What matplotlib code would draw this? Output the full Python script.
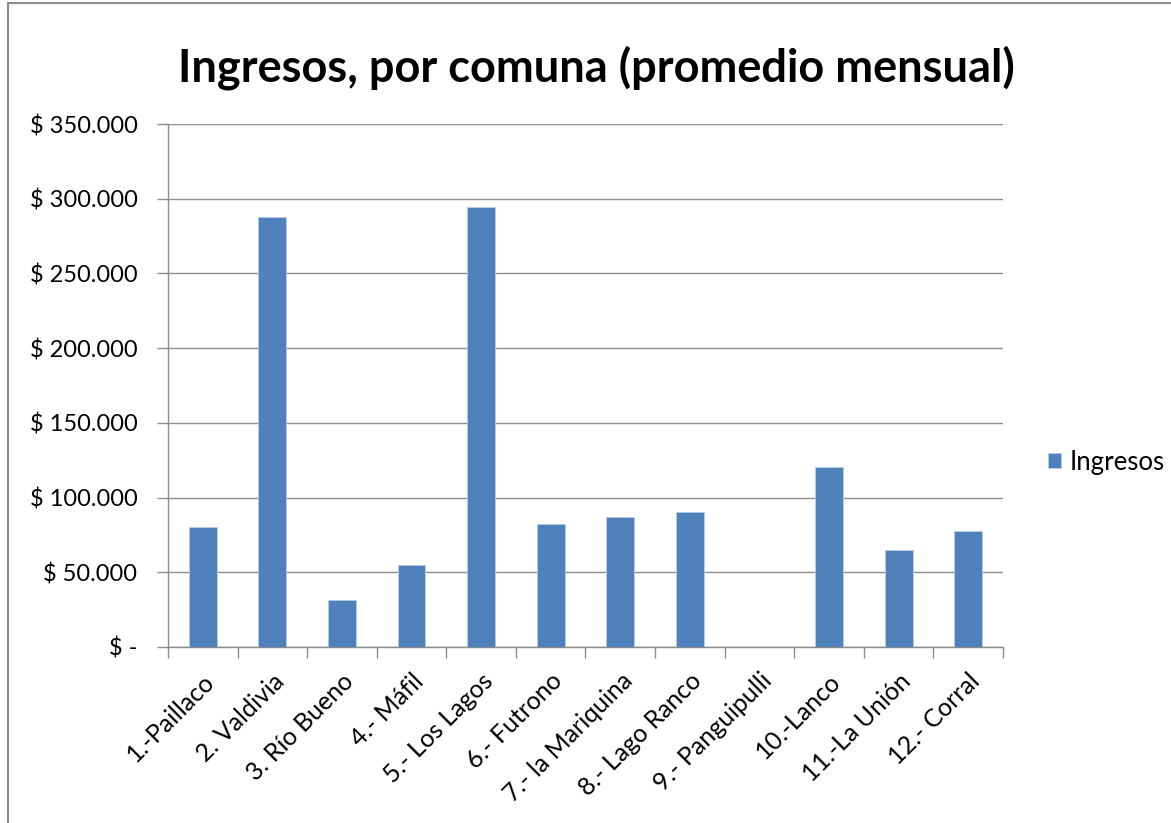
"""Bar chart: average monthly income per commune (Excel-style look)."""

import matplotlib

matplotlib.use("Agg")

import matplotlib.pyplot as plt  # noqa: E402
from matplotlib.patches import Rectangle  # noqa: E402
from matplotlib.ticker import FuncFormatter, MultipleLocator  # noqa: E402

comunas = [
    "1.-Paillaco", "2. Valdivia", "3. Río Bueno", "4.- Máfil", "5.- Los Lagos",
    "6.- Futrono", "7.- la Mariquina", "8.- Lago Ranco", "9.- Panguipulli",
    "10.-Lanco", "11.-La Unión", "12.- Corral",
]
ingresos = [80300, 287800, 31500, 54900, 294400, 82300, 87000, 90300, 0, 120400, 64900, 77600]

BLUE = "#4f81bd"
GRID = "#8c8c8c"
plt.rcParams["font.family"] = ["Lato", "DejaVu Sans"]


def peso(v, _pos):
    if v == 0:
        return "$ -"
    return "$ " + f"{int(v):,}".replace(",", ".")


fig = plt.figure(figsize=(11.71, 8.23), dpi=100)
fig.patches.append(Rectangle((8 / 1171, -0.01), 1.1, 1 - 3 / 823 + 0.01, transform=fig.transFigure,
                             fill=False, edgecolor="#8c8c8c", linewidth=1.5))
ax = fig.add_axes([0.1435, 0.2139, 0.713, 0.6354])

x = range(len(comunas))
ax.bar(x, ingresos, width=0.4, color=BLUE, edgecolor="#b9cde5", linewidth=0.6, label="Ingresos", zorder=3)

ax.set_xlim(-0.5, len(comunas) - 0.5)
ax.set_ylim(0, 350000)
ax.yaxis.set_major_locator(MultipleLocator(50000))
ax.yaxis.set_major_formatter(FuncFormatter(peso))
ax.grid(axis="y", color=GRID, linewidth=1, zorder=0)

# category boundaries get the tick marks, category centres get the labels
ax.set_xticks([i - 0.5 for i in range(len(comunas) + 1)], minor=False)
ax.set_xticklabels([])
ax.set_xticks(list(x), minor=True)
ax.set_xticklabels(comunas, minor=True, rotation=45, ha="right", rotation_mode="anchor", fontsize=18)
ax.tick_params(axis="x", which="major", length=8, color=GRID, width=1)
ax.tick_params(axis="x", which="minor", length=0, pad=16)
ax.tick_params(axis="y", length=8, color=GRID, width=1, labelsize=17, pad=14)

for side in ("top", "right"):
    ax.spines[side].set_visible(False)
for side in ("left", "bottom"):
    ax.spines[side].set_color(GRID)
    ax.spines[side].set_linewidth(1)

fig.text(0.509, 0.918, "Ingresos, por comuna (promedio mensual)", ha="center", va="center",
         fontsize=32.5, fontweight="bold")
fig.legend(loc="center left", bbox_to_anchor=(0.895, 0.4386), frameon=False, fontsize=18.5,
           handlelength=0.5, handleheight=0.5, handletextpad=0.35, borderpad=0, borderaxespad=0)

fig.savefig("out.png", dpi=100)
plt.close(fig)
